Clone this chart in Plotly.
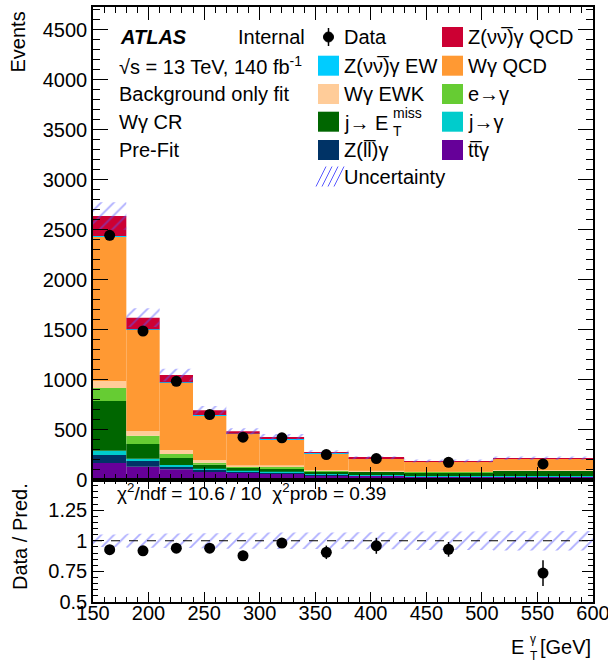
import numpy as np
import plotly.graph_objects as go

# ---------------- data ----------------
bin_edges = [150, 180, 210, 240, 270, 300, 340, 380, 430, 510, 600]

# stacked components, bottom -> top
ttgamma   = [165, 128, 102, 78, 68, 62, 42, 35, 28, 28]
zll_gamma = [80, 57, 30, 17, 10, 6, 5, 4, 3, 3]
j_to_gam  = [43, 23, 13, 13, 10, 10, 8, 6, 4, 4]
j_to_met  = [497, 147, 70, 40, 30, 34, 23, 30, 37, 55]
e_to_gam  = [130, 83, 40, 20, 10, 16, 7, 5, 3, 2]
wg_ewk    = [70, 47, 40, 27, 14, 14, 10, 8, 3, 3]
wg_qcd    = [1446, 1014, 675, 448, 315, 262, 169, 121, 100, 110]
zvv_ew    = [4, 3, 2, 2, 1, 1, 1, 1, 1, 1]
zvv_qcd   = [200, 116, 73, 47, 24, 20, 10, 8, 6, 6]

data_counts = [2442, 1485, 982, 650, 423, 417, 249, 209, 172, 156]
rel_unc     = [0.052, 0.058, 0.060, 0.062, 0.065, 0.068, 0.068, 0.070, 0.075, 0.080]
ratio_err   = [0.02, 0.025, 0.03, 0.035, 0.04, 0.04, 0.055, 0.065, 0.06, 0.105]

components = [
    ("ttgamma", ttgamma, "#660099"),
    ("zll", zll_gamma, "#003366"),
    ("jgam", j_to_gam, "#00CCCC"),
    ("jmet", j_to_met, "#006600"),
    ("egam", e_to_gam, "#66CC33"),
    ("wgewk", wg_ewk, "#FFCC99"),
    ("wgqcd", wg_qcd, "#FF9933"),
    ("zvvew", zvv_ew, "#00CCFF"),
    ("zvvqcd", zvv_qcd, "#CC0033"),
]

x_ticks = [150, 200, 250, 300, 350, 400, 450, 500, 550, 600]
ratio_ticks = [0.5, 0.75, 1, 1.25]
ratio_ticktext = ["0.5", "0.75", "1", "1.25"]

# ---------------- derived ----------------
edges = np.array(bin_edges, float)
centers = 0.5 * (edges[1:] + edges[:-1])
widths = edges[1:] - edges[:-1]

fig = go.Figure()
bottom = np.zeros(len(centers))
for name, vals, col in components:
    v = np.array(vals, float)
    fig.add_trace(go.Bar(x=centers, y=v, base=bottom.copy(), width=widths,
                         marker=dict(color=col, line=dict(width=0)),
                         name=name, showlegend=False, xaxis="x", yaxis="y"))
    bottom = bottom + v
total = bottom
unc = total * np.array(rel_unc)

hatch = dict(shape="/", fgcolor="#5a5aff", bgcolor="rgba(0,0,0,0)",
             size=9, solidity=0.2, fillmode="overlay")
fig.add_trace(go.Bar(x=centers, y=2 * unc, base=total - unc, width=widths,
                     marker=dict(color="rgba(0,0,0,0)", line=dict(width=0), pattern=hatch),
                     showlegend=False, xaxis="x", yaxis="y"))

dat = np.array(data_counts, float)
fig.add_trace(go.Scatter(x=centers, y=dat, mode="markers",
                         marker=dict(color="black", size=11),
                         error_y=dict(type="data", array=np.sqrt(dat), color="black",
                                      thickness=1.5, width=0),
                         showlegend=False, xaxis="x", yaxis="y"))

# ratio panel
rel = np.array(rel_unc)
fig.add_trace(go.Bar(x=centers, y=2 * rel, base=1 - rel, width=widths,
                     marker=dict(color="rgba(0,0,0,0)", line=dict(width=0), pattern=hatch),
                     showlegend=False, xaxis="x2", yaxis="y2"))
fig.add_trace(go.Scatter(x=centers, y=dat / total, mode="markers",
                         marker=dict(color="black", size=11),
                         error_y=dict(type="data", array=ratio_err, color="black",
                                      thickness=1.5, width=0),
                         showlegend=False, xaxis="x2", yaxis="y2"))

# ---------------- layout ----------------
W, H = 608, 671
L, R, T, B = 93, 15, 7, 69
PW, PH = W - L - R, H - T - B
split = (H - B - 479.5) / PH


def px(x):
    return (x - L) / PW


def py(y):
    return (H - B - y) / PH


FONT = "Liberation Sans, Arial, sans-serif"
ax_common = dict(showline=True, linecolor="black", linewidth=1.5, mirror="allticks",
                 ticks="inside", tickcolor="black", showgrid=False, zeroline=False,
                 automargin=False,
                 tickfont=dict(family=FONT, size=20, color="black"))

fig.update_layout(
    width=W, height=H, margin=dict(l=L, r=R, t=T, b=B, autoexpand=False),
    paper_bgcolor="white", plot_bgcolor="white",
    barmode="overlay", showlegend=False,
    font=dict(family=FONT, size=20, color="black"),
    xaxis=dict(domain=[0, 1], anchor="y", range=[150, 600], tickvals=x_ticks,
               showticklabels=False, ticklen=13, tickwidth=1,
               minor=dict(dtick=10, ticklen=6, ticks="inside", tickcolor="black"),
               **ax_common),
    yaxis=dict(domain=[split, 1], anchor="x", range=[0, 4725], dtick=500,
               ticklen=15, tickwidth=1, ticklabelstandoff=0,
               minor=dict(dtick=100, ticklen=7, ticks="inside", tickcolor="black"),
               **ax_common),
    xaxis2=dict(domain=[0, 1], anchor="y2", range=[150, 600], tickvals=x_ticks,
                ticklen=10, tickwidth=1, ticklabelstandoff=-8,
                ticklabeloverflow="allow",
                minor=dict(dtick=10, ticklen=5, ticks="inside", tickcolor="black"),
                **ax_common),
    yaxis2=dict(domain=[0, split], anchor="x2", range=[0.5, 1.5],
                tickvals=ratio_ticks, ticktext=ratio_ticktext,
                ticklen=11, tickwidth=1, ticklabelstandoff=0,
                minor=dict(dtick=0.05, ticklen=5, ticks="inside", tickcolor="black"),
                **ax_common),
)

shapes = []
ann = []


def text(x, y, s, size=20, xanchor="left", yanchor="middle", angle=0):
    ann.append(dict(x=px(x), y=py(y), xref="paper", yref="paper", text=s,
                    showarrow=False, xanchor=xanchor, yanchor=yanchor,
                    textangle=angle, font=dict(family=FONT, size=size, color="black")))


# reference line at 1 in ratio panel
shapes.append(dict(type="line", xref="x2 domain", yref="y2", x0=0, x1=1, y0=1, y1=1,
                   line=dict(color="black", width=1.2, dash="dash")))

# ATLAS labels
text(118, 37, "<b><i>ATLAS</i></b>")
text(236, 37, "Internal")
text(117, 66, "√s = 13 TeV, 140 fb<sup>-1</sup>")
text(117, 94, "Background only fit")
text(117, 122, "Wγ CR")
text(117, 150, "Pre-Fit")

# legend
col = {c[0]: c[2] for c in components}
rows = [37, 65.7, 94, 121.7, 150, 176.5]
bx1, bx2 = 318, 442


def box(x, y, color):
    shapes.append(dict(type="rect", xref="paper", yref="paper",
                       x0=px(x), x1=px(x + 21), y0=py(y + 10), y1=py(y - 10),
                       fillcolor=color, line=dict(width=0)))


# Data entry
shapes.append(dict(type="line", xref="paper", yref="paper", x0=px(328.5), x1=px(328.5),
                   y0=py(rows[0] + 9), y1=py(rows[0] - 9), line=dict(color="black", width=1.5)))
shapes.append(dict(type="circle", xref="paper", yref="paper", x0=px(323.5), x1=px(333.5),
                   y0=py(rows[0] + 5), y1=py(rows[0] - 5), fillcolor="black",
                   line=dict(color="black", width=1)))
text(342, rows[0], "Data")
box(bx1, rows[1], col["zvvew"]); text(342, rows[1], "Z(νν\u0305)γ EW")
box(bx1, rows[2], col["wgewk"]); text(342, rows[2], "Wγ EWK")
box(bx1, rows[3], col["jmet"]); text(342, rows[3] + 1, "j→ E")
text(391, rows[3] - 9, "miss", size=14)
text(391, rows[3] + 9, "T", size=14)
box(bx1, rows[4], col["zll"]); text(342, rows[4], "Z(ll\u0305)γ")
# uncertainty hatch legend
for k in range(4):
    x0 = 318 + k * 6
    shapes.append(dict(type="line", xref="paper", yref="paper",
                       x0=px(x0 - 2), y0=py(rows[5] + 10), x1=px(x0 + 8), y1=py(rows[5] - 10),
                       line=dict(color="#5a5aff", width=1)))
text(342, rows[5], "Uncertainty")

box(bx2, rows[0], col["zvvqcd"]); text(466, rows[0], "Z(νν\u0305)γ QCD")
box(bx2, rows[1], col["wgqcd"]); text(466, rows[1], "Wγ QCD")
box(bx2, rows[2], col["egam"]); text(466, rows[2], "e→γ")
box(bx2, rows[3], col["jgam"]); text(466, rows[3], "j→γ")
box(bx2, rows[4], col["ttgamma"]); text(466, rows[4], "tt\u0305γ")

# chi2 text
text(115, 492, "χ<sup>2</sup>/ndf = 10.6 / 10  χ<sup>2</sup>prob = 0.39", size=19)

# axis titles
text(18, 10, "Events", xanchor="center", yanchor="top", angle=-90)
text(20, 537, "Data / Pred.", xanchor="center", angle=-90)
text(526, 647, "E", xanchor="right")
text(528, 639, "γ", size=12)
text(528, 656, "T", size=12)
text(593, 647, "[GeV]", xanchor="right")

fig.update_layout(shapes=shapes, annotations=ann)
fig.write_html("out.html")
